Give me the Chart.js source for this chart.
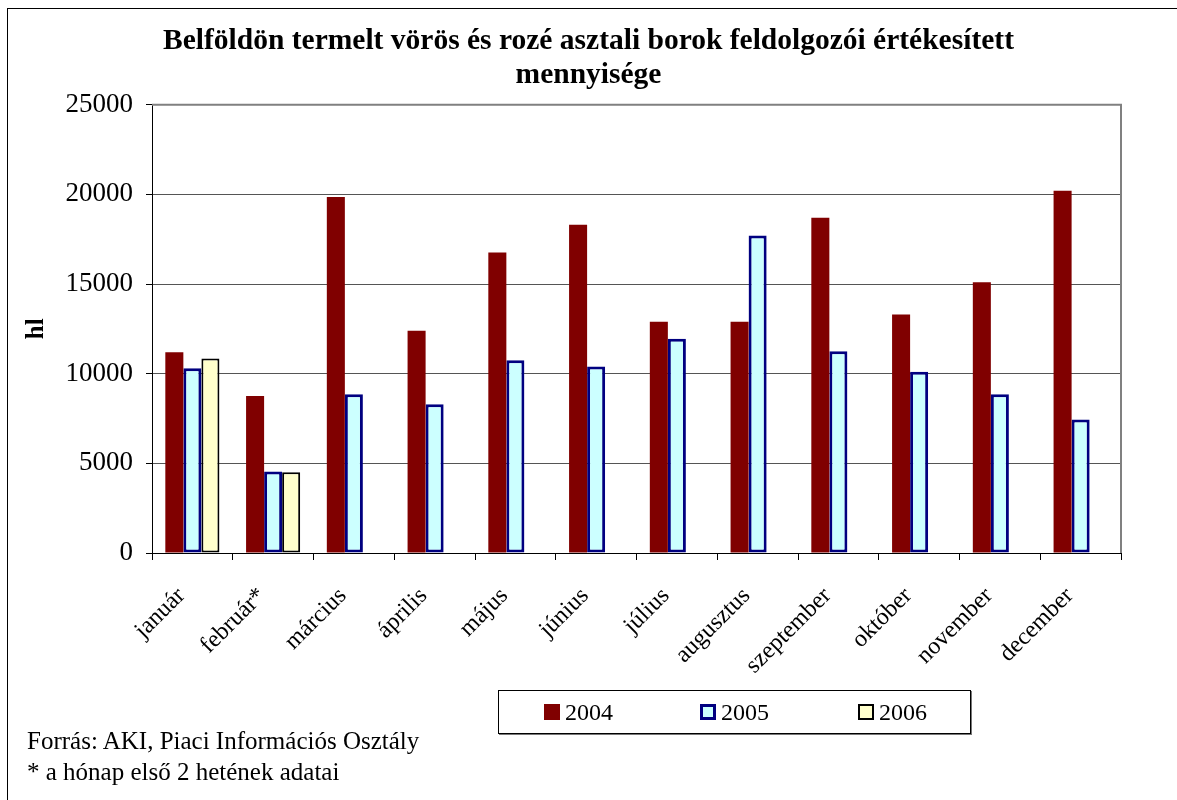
<!DOCTYPE html>
<html>
<head>
<meta charset="utf-8">
<script src="https://cdn.jsdelivr.net/npm/chart.js@4.4.0/dist/chart.umd.min.js"></script>
<style>
    body { margin: 0; background: #fff; }
    #wrap { position: relative; width: 1177px; height: 800px; font-family: "Liberation Serif", "Times New Roman", serif; }
    #frame { position: absolute; left: 7px; top: 8px; width: 1180px; height: 800px; border-left: 1px solid #000; border-top: 1px solid #000; pointer-events: none; }
    #legend { position: absolute; left: 498px; top: 690px; width: 471px; height: 42px; border: 1px solid #000; box-shadow: 1px 1px 0 #777; font-size: 24px; }
    .item { position: absolute; top: 0; height: 42px; display: flex; align-items: center; }
    .box { display: inline-block; width: 16px; height: 16px; box-sizing: border-box; margin-right: 5px; }
    .note { position: absolute; left: 27px; font-size: 25px; }
</style>
</head>
<body>
<div id="wrap">
    <canvas id="grafico" width="1177" height="800"></canvas>
    <div id="frame"></div>
    <div id="legend"></div>
    <div class="note" style="top: 727px;">Forrás: AKI, Piaci Információs Osztály</div>
    <div class="note" style="top: 758px;">* a hónap első 2 hetének adatai</div>
</div>
<script>
// Adatok (hl)
const honapok = ['január', 'február*', 'március', 'április', 'május', 'június', 'július', 'augusztus', 'szeptember', 'október', 'november', 'december'];
const ev2004 = [11200, 8750, 19850, 12400, 16750, 18300, 12900, 12900, 18700, 13300, 15100, 20200];
const ev2005 = [10300, 4550, 8850, 8300, 10750, 10400, 11950, 17700, 11250, 10100, 8850, 7450];
const ev2006 = [10850, 4500, null, null, null, null, null, null, null, null, null, null];
const cimSorok = ['Belföldön termelt vörös és rozé asztali borok feldolgozói értékesített', 'mennyisége'];

const serif = '"Liberation Serif", "Times New Roman", serif';

// szurke keret a rajzterulet teteje es jobb oldala korul
const keretPlugin = {
    id: 'keret',
    afterDraw(chart) {
        const a = chart.chartArea;
        const c = chart.ctx;
        c.save();
        c.strokeStyle = '#808080';
        c.lineWidth = 2;
        c.beginPath();
        c.moveTo(a.left, a.top);
        c.lineTo(a.right, a.top);
        c.lineTo(a.right, a.bottom);
        c.stroke();
        c.restore();
    }
};

const ctx = document.getElementById('grafico').getContext('2d');
const chart = new Chart(ctx, {
    type: 'bar',
    data: {
        labels: honapok,
        datasets: [
            { label: '2004', data: ev2004, backgroundColor: '#800000', borderWidth: 0 },
            { label: '2005', data: ev2005, backgroundColor: '#CCFFFF', borderColor: '#000080', borderWidth: 3, borderSkipped: false },
            { label: '2006', data: ev2006, backgroundColor: '#FFFFCC', borderColor: '#000000', borderWidth: 2, borderSkipped: false }
        ]
    },
    options: {
        responsive: false,
        animation: false,
        layout: { padding: 0 },
        datasets: { bar: { categoryPercentage: 0.67, barPercentage: 1 } },
        plugins: {
            legend: { display: false },
            tooltip: { enabled: false },
            title: {
                display: true,
                text: cimSorok,
                color: '#000',
                font: { family: serif, size: 29.5, weight: 'bold', lineHeight: 1.13 },
                padding: { top: 25, bottom: 13 }
            }
        },
        scales: {
            y: {
                min: 0,
                max: 25000,
                ticks: {
                    stepSize: 5000,
                    color: '#000',
                    padding: 13,
                    font: { family: serif, size: 27 },
                    callback: function (value) { return String(value); }
                },
                grid: { color: '#555', tickLength: 6, tickColor: '#000' },
                border: { color: '#000', width: 1 },
                title: { display: true, text: 'hl', color: '#000', font: { family: serif, size: 25, weight: 'bold' }, padding: { top: 22, bottom: 0 } },
                afterFit(scale) { scale.width = 152; }
            },
            // ures jobb oldali tengely, csak helyet foglal
            jobb: {
                type: 'linear',
                position: 'right',
                ticks: { display: false },
                grid: { display: false },
                border: { display: false },
                afterFit(scale) { scale.width = 56; }
            },
            x: {
                ticks: { color: '#000', minRotation: 45, maxRotation: 45, padding: 22, labelOffset: -11, font: { family: serif, size: 24 } },
                grid: { drawOnChartArea: false, tickLength: 7, color: '#000' },
                border: { color: '#000', width: 1 },
                afterFit(scale) { scale.height = 247; }
            }
        }
    },
    plugins: [keretPlugin]
});

// jelmagyarazat HTML-ben
const legend = document.getElementById('legend');
const pozicio = [45, 201, 359];
chart.data.datasets.forEach(function (ds, i) {
    const item = document.createElement('div');
    item.className = 'item';
    item.style.left = pozicio[i] + 'px';
    const box = document.createElement('span');
    box.className = 'box';
    box.style.background = ds.backgroundColor;
    if (ds.borderWidth) {
        box.style.border = ds.borderWidth + 'px solid ' + ds.borderColor;
    }
    item.appendChild(box);
    item.appendChild(document.createTextNode(ds.label));
    legend.appendChild(item);
});
</script>
</body>
</html>
